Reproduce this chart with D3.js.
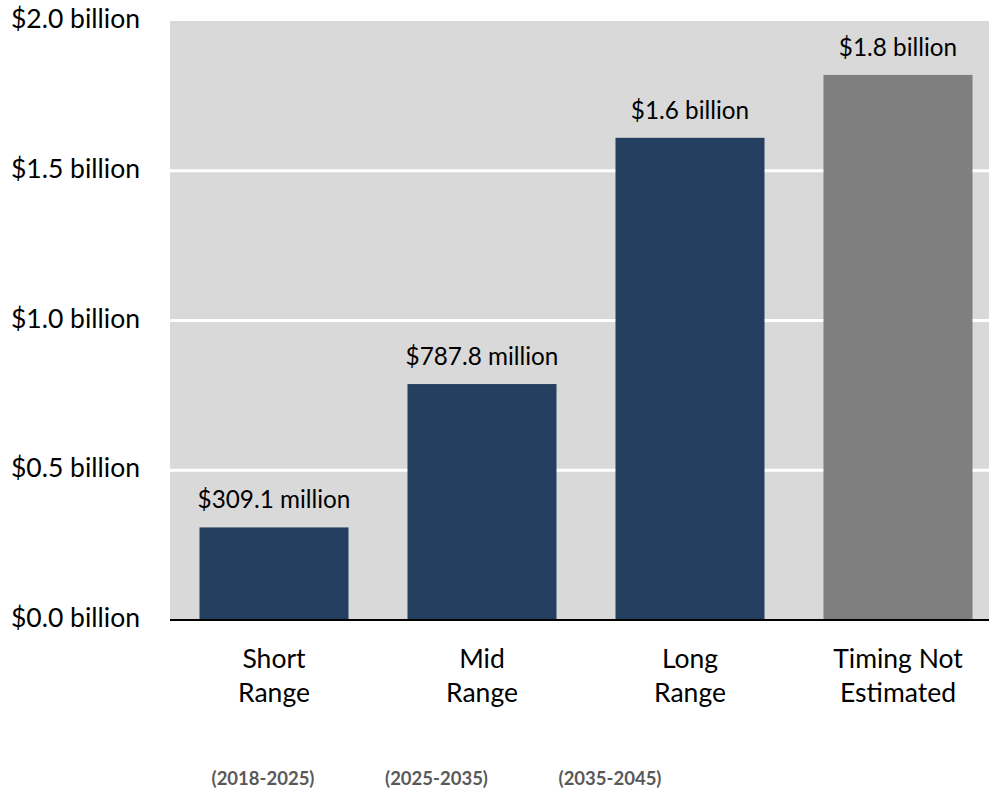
<!DOCTYPE html>
<html>
<head>
<meta charset="utf-8">
<script src="https://cdn.jsdelivr.net/npm/d3@7"></script>
<style>
  html, body { margin: 0; padding: 0; background: #fff; }
  svg { display: block; }
  text { font-family: Lato, "Open Sans", sans-serif; }
</style>
</head>
<body>
<svg id="chart" width="989" height="791"></svg>
<script>
// Cost by planning horizon, in billions of dollars
const categories = ["Short|Range", "Mid|Range", "Long|Range", "Timing Not|Estimated"];
const values = [0.3091, 0.7878, 1.61, 1.82];
const valueLabels = ["$309.1 million", "$787.8 million", "$1.6 billion", "$1.8 billion"];
const barColors = ["#243f60", "#243f60", "#243f60", "#7f7f7f"];
const periods = ["(2018-2025)", "(2025-2035)", "(2035-2045)"];
const yTicks = [0, 0.5, 1.0, 1.5, 2.0];

const svg = d3.select("#chart");
const W = 989, H = 791;
const plot = { left: 170, top: 21, bottom: 620, right: 1002 };

const x = d3.scaleBand()
  .domain(categories)
  .range([plot.left, plot.right])
  .paddingInner(59 / 208)
  .paddingOuter(29.5 / 208);

const y = d3.scaleLinear().domain([0, 2]).range([plot.bottom, plot.top]);

// plot background
svg.append("rect")
  .attr("x", plot.left).attr("y", plot.top)
  .attr("width", W - plot.left).attr("height", plot.bottom - plot.top)
  .attr("fill", "#d9d9d9");

// horizontal gridlines
svg.append("g")
  .selectAll("line")
  .data(yTicks.filter(t => t > 0 && t < 2))
  .join("line")
  .attr("x1", plot.left).attr("x2", W)
  .attr("y1", d => y(d)).attr("y2", d => y(d))
  .attr("stroke", "#ffffff").attr("stroke-width", 3);

// y axis labels
svg.append("g")
  .selectAll("text")
  .data(yTicks)
  .join("text")
  .attr("x", 140)
  .attr("y", d => y(d) + 7)
  .attr("text-anchor", "end")
  .attr("font-size", 26.5)
  .attr("fill", "#000")
  .text(d => "$" + d3.format(".1f")(d) + " billion");

// bars
svg.append("g")
  .selectAll("rect")
  .data(values)
  .join("rect")
  .attr("x", (d, i) => x(categories[i]))
  .attr("y", d => y(d))
  .attr("width", x.bandwidth())
  .attr("height", d => y(0) - y(d))
  .attr("fill", (d, i) => barColors[i]);

// value labels
svg.append("g")
  .selectAll("text")
  .data(values)
  .join("text")
  .attr("x", (d, i) => x(categories[i]) + x.bandwidth() / 2)
  .attr("y", d => y(d) - 19)
  .attr("text-anchor", "middle")
  .attr("font-size", 24.3)
  .attr("fill", "#000")
  .text((d, i) => valueLabels[i]);

// baseline
svg.append("line")
  .attr("x1", plot.left).attr("x2", W)
  .attr("y1", y(0)).attr("y2", y(0))
  .attr("stroke", "#000").attr("stroke-width", 2);

// category labels (two lines)
const cat = svg.append("g")
  .selectAll("text")
  .data(categories)
  .join("text")
  .attr("x", d => x(d) + x.bandwidth() / 2)
  .attr("y", 668)
  .attr("text-anchor", "middle")
  .attr("font-size", 26.5)
  .attr("fill", "#000");
cat.each(function(d) {
  const t = d3.select(this);
  d.split("|").forEach((line, k) => {
    t.append("tspan")
      .attr("x", t.attr("x"))
      .attr("dy", k === 0 ? 0 : 34)
      .text(line);
  });
});

// planning period labels
const px = d3.scalePoint().domain(periods).range([263, 610]);
svg.append("g")
  .selectAll("text")
  .data(periods)
  .join("text")
  .attr("x", d => px(d))
  .attr("y", 785)
  .attr("text-anchor", "middle")
  .attr("font-size", 18.5)
  .attr("font-weight", "bold")
  .attr("fill", "#595959")
  .text(d => d);
</script>
</body>
</html>
